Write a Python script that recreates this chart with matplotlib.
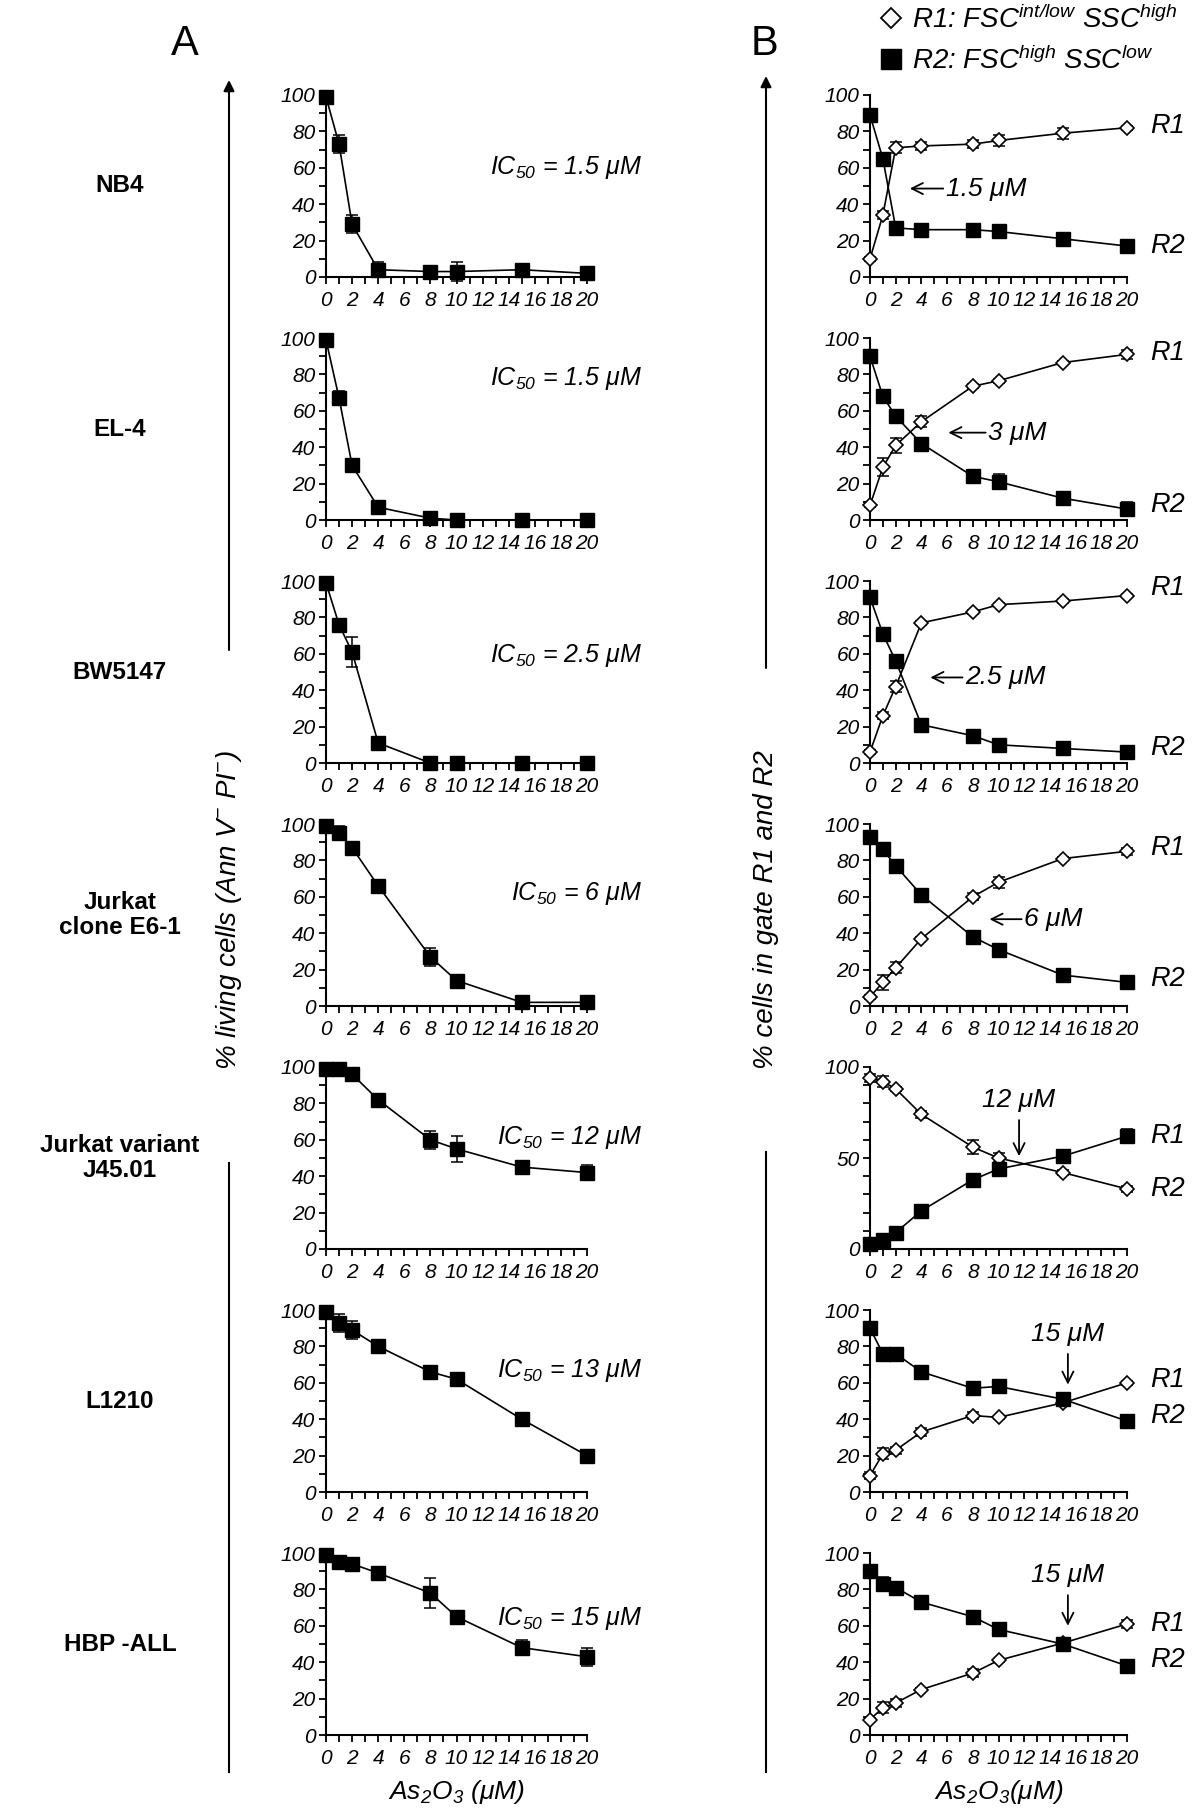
import numpy as np
import matplotlib
matplotlib.use('Agg')
import matplotlib.pyplot as plt
import matplotlib.patches as mpatches
from matplotlib.lines import Line2D

plt.rcParams['font.family'] = ['Liberation Sans', 'DejaVu Sans']
plt.rcParams['mathtext.fontset'] = 'custom'
plt.rcParams['mathtext.rm'] = 'Liberation Sans:italic'
plt.rcParams['mathtext.it'] = 'Liberation Sans:italic'
plt.rcParams['mathtext.bf'] = 'Liberation Sans:bold'

# As2O3 concentrations (uM)
conc = [0, 1, 2, 4, 8, 10, 15, 20]

cell_lines = ['NB4', 'EL-4', 'BW5147', 'Jurkat\nclone E6-1',
              'Jurkat variant\nJ45.01', 'L1210', 'HBP -ALL']
ic50 = ['1.5', '1.5', '2.5', '6', '12', '13', '15']

# panel A: % living cells (Ann V- PI-)
living = [
    [99, 73, 29, 4, 3, 3, 4, 2],
    [99, 67, 30, 7, 1, 0, 0, 0],
    [99, 76, 61, 11, 0, 0, 0, 0],
    [99, 95, 87, 66, 27, 14, 2, 2],
    [99, 99, 96, 82, 60, 55, 45, 42],
    [99, 93, 89, 80, 66, 62, 40, 20],
    [99, 95, 94, 89, 78, 65, 48, 43],
]
living_err = [
    [0, 5, 5, 4, 1, 5, 1, 1],
    [0, 4, 3, 3, 1, 1, 0, 0],
    [0, 1, 8, 1, 0, 0, 0, 0],
    [1, 4, 3, 1.5, 5, 3, 1, 1],
    [0, 1, 2, 2, 5, 7, 3, 4],
    [0, 5, 5, 2, 2, 2, 1.5, 2],
    [0, 1, 1, 1, 8, 2, 4, 5],
]

# panel B: open diamonds / filled squares (% cells in gate)
open_vals = [
    [10, 34, 71, 72, 73, 75, 79, 82],
    [8, 29, 41, 54, 73.5, 76.5, 86.5, 91],
    [6, 26, 42, 77, 83, 87, 89, 92],
    [5, 13, 21, 37, 60, 68, 81, 85],
    [94, 92, 88, 74, 56, 50, 42, 33],
    [9, 21, 23, 33, 42, 41, 49, 60],
    [8.5, 15, 17.6, 25, 34, 41, 50.5, 61],
]
open_err = [
    [1, 2, 3, 2, 2, 3, 3, 1],
    [1, 5, 4, 3, 1, 1, 1, 2.5],
    [1, 2, 3, 1, 1, 1, 1, 1],
    [1, 4, 3, 1, 2, 3, 1, 2],
    [2, 3, 1, 2, 4, 3, 1.5, 1.5],
    [2, 3, 2, 2, 2, 1, 1, 1],
    [1, 3, 2, 1, 2, 1, 1, 2],
]
filled_vals = [
    [89, 65, 27, 26, 26, 25, 21, 17],
    [90, 68, 57, 42, 24, 21, 12, 6],
    [91, 71, 56, 21, 15, 10, 8, 6],
    [93, 86, 77, 61, 38, 31, 17, 13],
    [3, 5, 9, 21, 38, 44, 51, 62],
    [90, 76, 76, 66, 57, 58, 51, 39],
    [90, 83, 81, 73, 65, 58, 50, 38],
]
filled_err = [
    [1, 1, 1, 1, 1, 1, 1, 1],
    [1, 2, 3, 1, 1, 4, 1, 4],
    [1, 1, 1, 1, 1, 1, 1, 1],
    [1, 3, 1, 1, 3, 3, 1, 1],
    [3, 1, 1, 1, 3, 4, 1, 4],
    [3, 3, 1, 2, 2, 1, 2, 1],
    [3, 4, 1, 2, 1, 3, 1, 1],
]
crossing = ['1.5', '3', '2.5', '6', '12', '15', '15']

# layout (pixels in a 1200x1817 figure)
W, H = 1200, 1817
row_top, row_h, row_step = 95, 182, 243
ic50_y = [60, 78, 59, 62, 61, 67, 64]
# horizontal "<-- x uM" arrows: (x_head, x_tail, y)
h_arrows = {0: (3.1, 5.7, 48.6), 1: (6.1, 9.0, 48), 2: (4.7, 7.2, 47), 3: (9.3, 11.8, 47.7)}
# vertical "x uM / down arrow": (x, y_head, y_text)
v_arrows = {4: (11.6, 51, 82), 5: (15.4, 59, 87), 6: (15.4, 60, 88)}
r_label_y = [(83, 17), (92, 8), (96, 8), (87, 15), (62, 33), (61.5, 41.6), (61, 41)]

fig = plt.figure(figsize=(W / 100, H / 100), dpi=100)


def style_axis(ax, yticks):
    ax.set_xlim(0, 20)
    ax.set_ylim(0, 100)
    for s in ['top', 'right']:
        ax.spines[s].set_visible(False)
    for s in ['left', 'bottom']:
        ax.spines[s].set_linewidth(1.5)
    ax.set_xticks(range(0, 21, 2))
    ax.set_xticks(range(0, 21), minor=True)
    ax.set_yticks(yticks)
    ax.set_yticks(range(0, 101, 10), minor=True)
    ax.tick_params(which='both', direction='out', length=5, width=1.3,
                   labelsize=15)
    ax.tick_params(axis='y', pad=2.5)
    ax.tick_params(axis='x', pad=5)
    for lab in ax.get_xticklabels() + ax.get_yticklabels():
        lab.set_fontstyle('italic')


def series(ax, y, err, filled):
    ax.errorbar(conc, y, yerr=err, fmt='none', ecolor='k', elinewidth=1.1,
                capsize=4, capthick=1.1, zorder=2, clip_on=False)
    ax.plot(conc, y, '-', color='k', lw=1.2, zorder=3, clip_on=False)
    if filled:
        ax.plot(conc, y, 's', color='k', ms=10, zorder=4, clip_on=False)
    else:
        ax.plot(conc, y, 'D', mfc='white', mec='k', mew=1.2, ms=7,
                zorder=4, clip_on=False)


axes_a, axes_b = [], []
for i in range(7):
    bottom = 1 - (row_top + row_step * i + row_h) / H
    ax_a = fig.add_axes([326 / W, bottom, 261 / W, row_h / H])
    ax_b = fig.add_axes([870 / W, bottom, 257 / W, row_h / H])
    axes_a.append(ax_a)
    axes_b.append(ax_b)

    style_axis(ax_a, range(0, 101, 20))
    series(ax_a, living[i], living_err[i], True)
    ax_a.text(24.2, ic50_y[i], r'IC$_{50}$ = ' + ic50[i] + ' μM', ha='right',
              va='center', fontsize=18, style='italic')

    style_axis(ax_b, [0, 50, 100] if i == 4 else range(0, 101, 20))
    series(ax_b, open_vals[i], open_err[i], False)
    series(ax_b, filled_vals[i], filled_err[i], True)
    ax_b.text(21.8, r_label_y[i][0], 'R1', ha='left', va='center',
              fontsize=19.5, style='italic')
    ax_b.text(21.8, r_label_y[i][1], 'R2', ha='left', va='center',
              fontsize=19.5, style='italic')
    if i in h_arrows:
        xh, xt, ya = h_arrows[i]
        ax_b.annotate('', xy=(xh, ya), xytext=(xt, ya),
                      arrowprops=dict(arrowstyle='->', lw=1.3, color='k',
                                      mutation_scale=20, shrinkA=0, shrinkB=0))
        ax_b.text(xt + 0.2, ya, crossing[i] + ' μM', ha='left', va='center',
                  fontsize=19, style='italic')
    if i in v_arrows:
        xa, yh, yt = v_arrows[i]
        ax_b.annotate(crossing[i] + ' μM', xy=(xa, yh), xytext=(xa, yt),
                      ha='center', va='center', fontsize=19, style='italic',
                      arrowprops=dict(arrowstyle='->', lw=1.3, color='k',
                                      mutation_scale=20, shrinkA=4, shrinkB=0))

    # cell line name
    fig.text(120 / W, bottom + row_h / H / 2, cell_lines[i], ha='center',
             va='center', fontsize=17.5, fontweight='bold', linespacing=1.15)

axes_a[-1].set_xlabel(r'As$_2$O$_3$ (μM)', fontsize=19, style='italic',
                      labelpad=7)
axes_b[-1].set_xlabel(r'As$_2$O$_3$(μM)', fontsize=19, style='italic',
                      labelpad=7)


def fy(p):
    return 1 - p / H


# big vertical arrows with the axis titles
for xa, top, up_end, lo_start, title in [
        (229, 80, 650, 1163, r'% living cells (Ann V$^{-}$ PI$^{-}$)'),
        (766, 76, 668, 1152, '% cells in gate R1 and R2')]:
    fig.add_artist(mpatches.FancyArrowPatch(
        (xa / W, fy(up_end)), (xa / W, fy(top)), transform=fig.transFigure,
        arrowstyle='-|>', mutation_scale=16, lw=1.5, color='k',
        shrinkA=0, shrinkB=0))
    fig.add_artist(Line2D([xa / W, xa / W], [fy(lo_start), fy(1772)],
                          transform=fig.transFigure, color='k', lw=1.5))
    fig.text(xa / W, fy(910), title, rotation=90, ha='center', va='center',
             fontsize=20, style='italic')

fig.text(185 / W, fy(44), 'A', ha='center', va='center', fontsize=30)
fig.text(764 / W, fy(44), 'B', ha='center', va='center', fontsize=30)

handles = [Line2D([], [], ls='none', marker='D', mfc='white', mec='k',
                  mew=1.3, ms=10),
           Line2D([], [], ls='none', marker='s', color='k', ms=14)]
labels = [r'R1: FSC$^{int/low}$ SSC$^{high}$', r'R2: FSC$^{high}$ SSC$^{low}$']
fig.legend(handles, labels, loc='upper left', bbox_to_anchor=(855 / W, 1.011),
           frameon=False, handlelength=0.8, handletextpad=0.35,
           labelspacing=0.45, prop=dict(size=20, style='italic'))

fig.savefig('out.png', dpi=100)
